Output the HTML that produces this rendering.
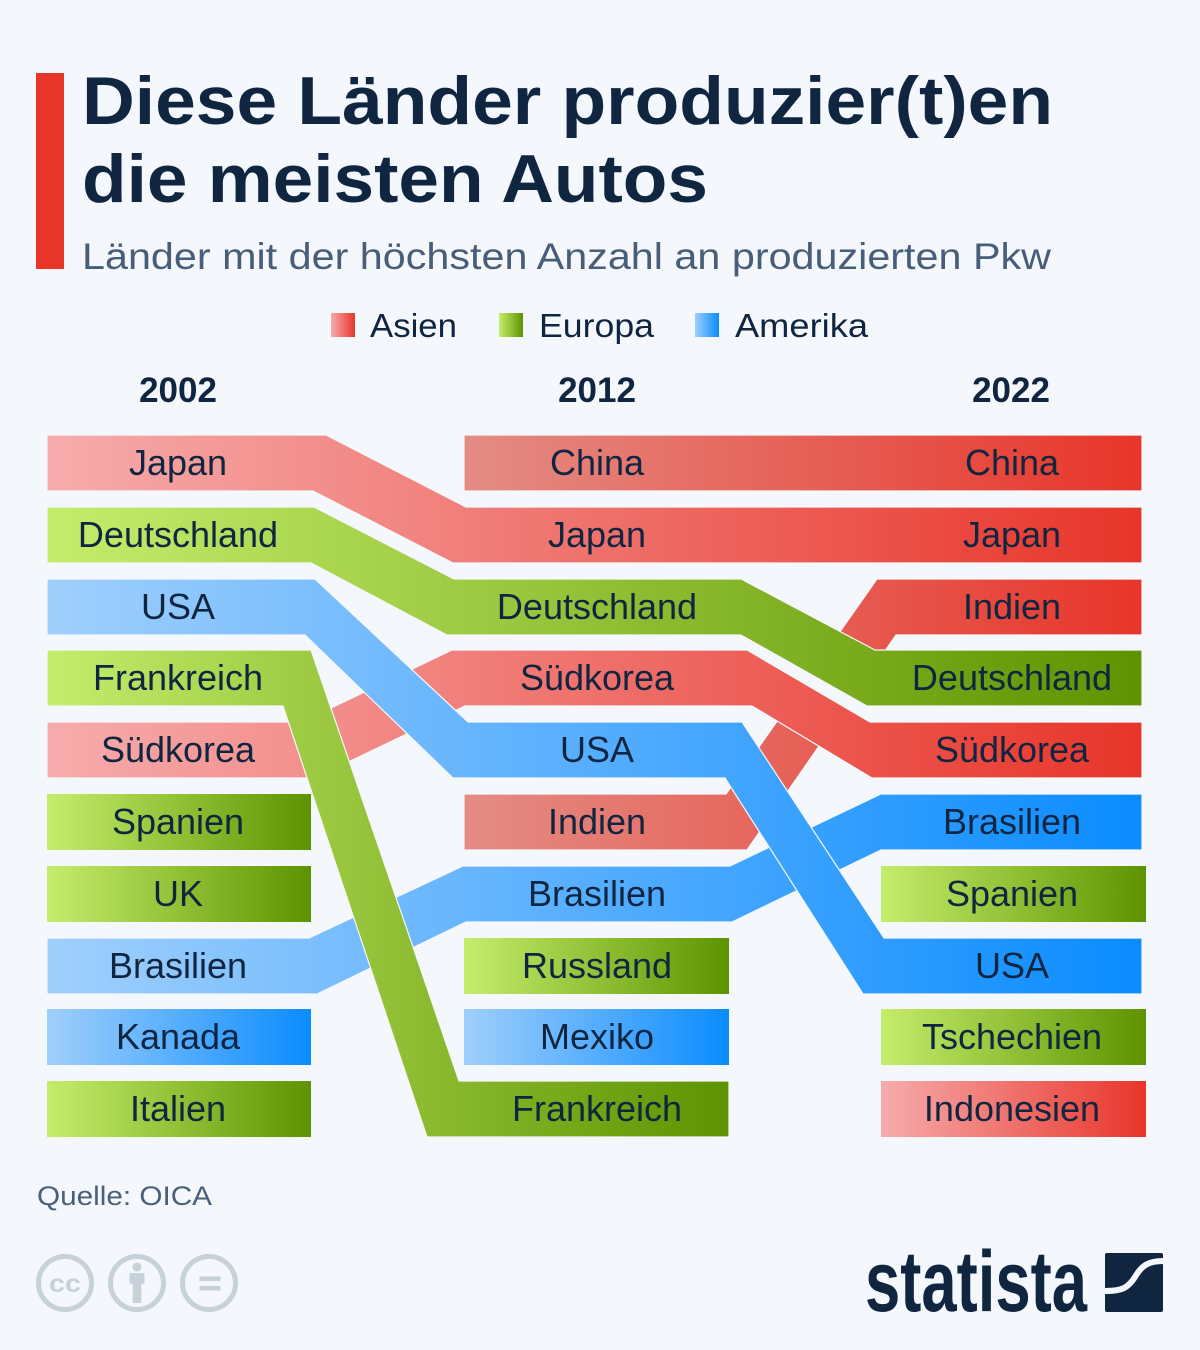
<!DOCTYPE html>
<html>
<head>
<meta charset="utf-8">
<style>
  html, body { margin: 0; padding: 0; background: #f4f7fb; }
  svg { display: block; }
  text { font-family: "Liberation Sans", "DejaVu Sans", sans-serif; }
</style>
</head>
<body>
<svg width="1200" height="1350" viewBox="0 0 1200 1350" xmlns="http://www.w3.org/2000/svg">
  <defs>
    <linearGradient id="gA1" gradientUnits="userSpaceOnUse" x1="47" y1="0" x2="1142" y2="0">
      <stop offset="0" stop-color="#f6acac"/><stop offset="1" stop-color="#e8352a"/>
    </linearGradient>
    <linearGradient id="gA2" gradientUnits="userSpaceOnUse" x1="464" y1="0" x2="1142" y2="0">
      <stop offset="0" stop-color="#e48c84"/><stop offset="1" stop-color="#e8352a"/>
    </linearGradient>
    <linearGradient id="gAb" x1="0" y1="0" x2="1" y2="0">
      <stop offset="0" stop-color="#f6acac"/><stop offset="1" stop-color="#e8352a"/>
    </linearGradient>
    <linearGradient id="gE1" gradientUnits="userSpaceOnUse" x1="47" y1="0" x2="1142" y2="0">
      <stop offset="0" stop-color="#c5ed6c"/><stop offset="1" stop-color="#5e9300"/>
    </linearGradient>
    <linearGradient id="gE2" gradientUnits="userSpaceOnUse" x1="47" y1="0" x2="729" y2="0">
      <stop offset="0" stop-color="#c5ed6c"/><stop offset="1" stop-color="#5e9300"/>
    </linearGradient>
    <linearGradient id="gEb" x1="0" y1="0" x2="1" y2="0">
      <stop offset="0" stop-color="#c5ed6c"/><stop offset="1" stop-color="#5e9300"/>
    </linearGradient>
    <linearGradient id="gB1" gradientUnits="userSpaceOnUse" x1="47" y1="0" x2="1142" y2="0">
      <stop offset="0" stop-color="#a0cffc"/><stop offset="1" stop-color="#0a8cff"/>
    </linearGradient>
    <linearGradient id="gBb" x1="0" y1="0" x2="1" y2="0">
      <stop offset="0" stop-color="#a0cffc"/><stop offset="1" stop-color="#0a8cff"/>
    </linearGradient>
  </defs>

  <rect x="0" y="0" width="1200" height="1350" fill="#f4f7fb"/>

  <!-- Header -->
  <rect x="36" y="73" width="28" height="196" fill="#e8352a"/>
  <text x="82" y="124" font-size="68" font-weight="bold" fill="#0f2540" textLength="971" lengthAdjust="spacingAndGlyphs">Diese Länder produzier(t)en</text>
  <text x="82" y="202" font-size="68" font-weight="bold" fill="#0f2540" textLength="626" lengthAdjust="spacingAndGlyphs">die meisten Autos</text>
  <text x="82" y="269" font-size="37" fill="#485d78" textLength="969" lengthAdjust="spacingAndGlyphs">Länder mit der höchsten Anzahl an produzierten Pkw</text>

  <!-- Legend -->
  <rect x="331" y="313" width="24" height="24" fill="url(#gAb)"/>
  <text x="370" y="337" font-size="33" fill="#0f2540" textLength="87" lengthAdjust="spacingAndGlyphs">Asien</text>
  <rect x="499" y="313" width="24" height="24" fill="url(#gEb)"/>
  <text x="539" y="337" font-size="33" fill="#0f2540" textLength="115" lengthAdjust="spacingAndGlyphs">Europa</text>
  <rect x="695" y="313" width="24" height="24" fill="url(#gBb)"/>
  <text x="735" y="337" font-size="33" fill="#0f2540" textLength="133" lengthAdjust="spacingAndGlyphs">Amerika</text>

  <!-- Year labels -->
  <text x="178" y="402" font-size="35" font-weight="bold" fill="#0f2540" text-anchor="middle">2002</text>
  <text x="597" y="402" font-size="35" font-weight="bold" fill="#0f2540" text-anchor="middle">2012</text>
  <text x="1011" y="402" font-size="35" font-weight="bold" fill="#0f2540" text-anchor="middle">2022</text>

  <!-- Flow bands (bottom to top) -->
  <g stroke="#f4f7fb" stroke-width="1.2" stroke-linejoin="miter">
    <!-- Indien -->
    <polygon fill="url(#gA2)" points="464,794 726,794 877,579 1142,579 1142,635 896,635 747,850 464,850"/>
    <!-- gap between Deutschland and Südkorea diagonals -->
    <polygon fill="#f4f7fb" points="741,635 867,706 870,722 747,650"/>
    <!-- Brasilien -->
    <polygon fill="url(#gB1)" points="47,938 309,938 463,866 730,866 881,794 1142,794 1142,850 881,850 732,922 466,922 317,994 47,994"/>
    <!-- Südkorea -->
    <polygon fill="url(#gA1)" points="47,722 302,722 452,650 747,650 870,722 1142,722 1142,778 872,778 752,706 465,706 315,778 47,778"/>
    <!-- Deutschland -->
    <polygon fill="url(#gE1)" points="47,507 314,507 454,579 741,579 875,650 1142,650 1142,706 867,706 741,635 447,635 311,563 47,563"/>
    <!-- Japan -->
    <polygon fill="url(#gA1)" points="47,435 326,435 466,507 1142,507 1142,563 453,563 313,491 47,491"/>
    <!-- China -->
    <polygon fill="url(#gA2)" points="464,435 1142,435 1142,491 464,491"/>
    <!-- USA -->
    <polygon fill="url(#gB1)" points="47,579 315,579 468,722 742,722 884,938 1142,938 1142,994 863,994 725,778 453,778 305,635 47,635"/>
    <!-- Frankreich -->
    <polygon fill="url(#gE2)" points="47,650 311,650 459,1081 729,1081 729,1137 427,1137 283,706 47,706"/>
  </g>

  <!-- Standalone bars -->
  <rect x="47" y="794" width="264" height="56" fill="url(#gEb)"/>
  <rect x="47" y="866" width="264" height="56" fill="url(#gEb)"/>
  <rect x="47" y="1009" width="264" height="56" fill="url(#gBb)"/>
  <rect x="47" y="1081" width="264" height="56" fill="url(#gEb)"/>
  <rect x="464" y="938" width="265" height="56" fill="url(#gEb)"/>
  <rect x="464" y="1009" width="265" height="56" fill="url(#gBb)"/>
  <rect x="881" y="866" width="265" height="56" fill="url(#gEb)"/>
  <rect x="881" y="1009" width="265" height="56" fill="url(#gEb)"/>
  <rect x="881" y="1081" width="265" height="56" fill="url(#gAb)"/>

  <!-- Labels -->
  <g font-size="36" fill="#0f2540" text-anchor="middle">
    <text x="178" y="475">Japan</text>
    <text x="178" y="547">Deutschland</text>
    <text x="178" y="619">USA</text>
    <text x="178" y="690">Frankreich</text>
    <text x="178" y="762">Südkorea</text>
    <text x="178" y="834">Spanien</text>
    <text x="178" y="906">UK</text>
    <text x="178" y="978">Brasilien</text>
    <text x="178" y="1049">Kanada</text>
    <text x="178" y="1121">Italien</text>

    <text x="597" y="475">China</text>
    <text x="597" y="547">Japan</text>
    <text x="597" y="619">Deutschland</text>
    <text x="597" y="690">Südkorea</text>
    <text x="597" y="762">USA</text>
    <text x="597" y="834">Indien</text>
    <text x="597" y="906">Brasilien</text>
    <text x="597" y="978">Russland</text>
    <text x="597" y="1049">Mexiko</text>
    <text x="597" y="1121">Frankreich</text>

    <text x="1012" y="475">China</text>
    <text x="1012" y="547">Japan</text>
    <text x="1012" y="619">Indien</text>
    <text x="1012" y="690">Deutschland</text>
    <text x="1012" y="762">Südkorea</text>
    <text x="1012" y="834">Brasilien</text>
    <text x="1012" y="906">Spanien</text>
    <text x="1012" y="978">USA</text>
    <text x="1012" y="1049">Tschechien</text>
    <text x="1012" y="1121">Indonesien</text>
  </g>

  <!-- Footer -->
  <text x="37" y="1205" font-size="27" fill="#4a607a" textLength="175" lengthAdjust="spacingAndGlyphs">Quelle: OICA</text>

  <g fill="none" stroke="#c6d1da" stroke-width="5">
    <circle cx="65" cy="1283" r="26.5"/>
    <circle cx="137" cy="1283" r="26.5"/>
    <circle cx="209" cy="1283" r="26.5"/>
  </g>
  <text x="65" y="1292" font-size="25" font-weight="bold" fill="#c6d1da" text-anchor="middle" textLength="32" lengthAdjust="spacingAndGlyphs">cc</text>
  <g fill="#c6d1da">
    <circle cx="137" cy="1267" r="4.5"/>
    <rect x="129.5" y="1273" width="15" height="11" rx="1.5"/>
    <rect x="132.7" y="1282" width="8.6" height="21"/>
    <rect x="199.5" y="1276.5" width="21" height="4.5"/>
    <rect x="199.5" y="1286" width="21" height="4.5"/>
  </g>

  <!-- Statista logo -->
  <text x="865" y="1311" font-size="86" font-weight="bold" fill="#0f2540" textLength="222" lengthAdjust="spacingAndGlyphs">statista</text>
  <rect x="1105" y="1253" width="58" height="59" rx="2" fill="#0f2540"/>
  <path d="M1105,1291 C1122,1291 1128,1288 1135,1277 C1142,1265 1149,1261 1163,1261" fill="none" stroke="#f4f7fb" stroke-width="6"/>
</svg>
</body>
</html>
